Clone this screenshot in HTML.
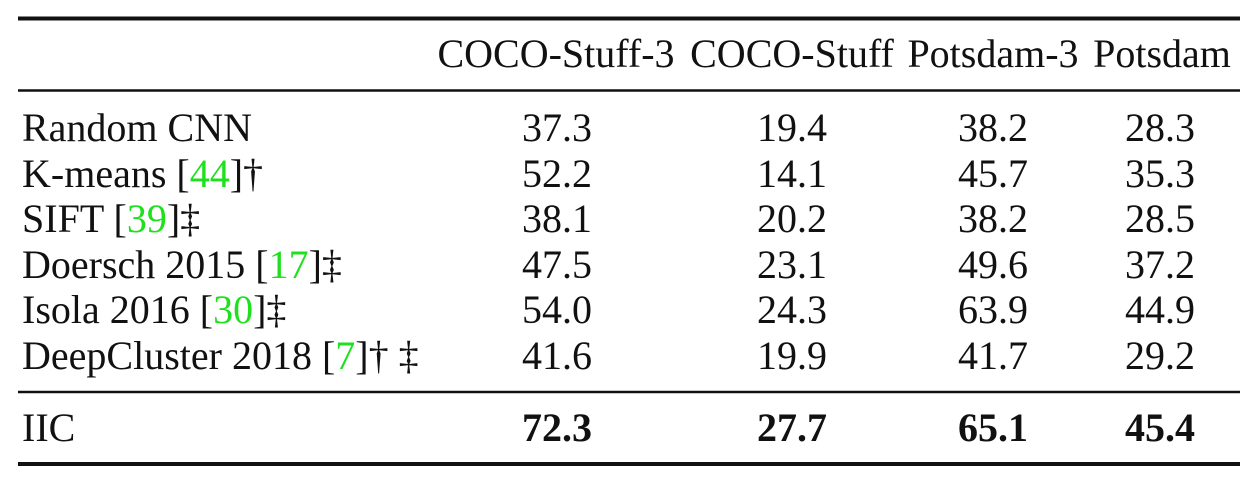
<!DOCTYPE html>
<html><head><meta charset="utf-8"><style>
html,body{margin:0;padding:0;background:#fff;}
svg{display:block;}
text{font-family:"Liberation Serif",serif;font-size:40px;fill:#111;}
.g{fill:#1ee01e;}
.b{font-weight:bold;}
</style></head><body>
<svg width="1247" height="477">
<line x1="18" x2="1240" y1="18.5" y2="18.5" stroke="#111" stroke-width="4"/>
<line x1="18" x2="1240" y1="90.5" y2="90.5" stroke="#111" stroke-width="2.5"/>
<line x1="18" x2="1240" y1="392" y2="392" stroke="#111" stroke-width="2.5"/>
<line x1="18" x2="1240" y1="464" y2="464" stroke="#111" stroke-width="4"/>
<g text-anchor="middle">
<text x="556" y="67">COCO-Stuff-3</text>
<text x="792" y="67">COCO-Stuff</text>
<text x="993" y="67">Potsdam-3</text>
<text x="1162" y="67">Potsdam</text>
</g>
<g>
<text x="22" y="141">Random CNN</text>
<text x="22" y="187">K-means [<tspan class="g">44</tspan>]†</text>
<text x="22" y="232">SIFT [<tspan class="g">39</tspan>]‡</text>
<text x="22" y="278">Doersch 2015 [<tspan class="g">17</tspan>]‡</text>
<text x="22" y="323">Isola 2016 [<tspan class="g">30</tspan>]‡</text>
<text x="22" y="369">DeepCluster 2018 [<tspan class="g">7</tspan>]† ‡</text>
<text x="22" y="441">IIC</text>
</g>
<g text-anchor="middle">
<text x="557" y="141">37.3</text><text x="792" y="141">19.4</text><text x="993" y="141">38.2</text><text x="1160" y="141">28.3</text>
<text x="557" y="187">52.2</text><text x="792" y="187">14.1</text><text x="993" y="187">45.7</text><text x="1160" y="187">35.3</text>
<text x="557" y="232">38.1</text><text x="792" y="232">20.2</text><text x="993" y="232">38.2</text><text x="1160" y="232">28.5</text>
<text x="557" y="278">47.5</text><text x="792" y="278">23.1</text><text x="993" y="278">49.6</text><text x="1160" y="278">37.2</text>
<text x="557" y="323">54.0</text><text x="792" y="323">24.3</text><text x="993" y="323">63.9</text><text x="1160" y="323">44.9</text>
<text x="557" y="369">41.6</text><text x="792" y="369">19.9</text><text x="993" y="369">41.7</text><text x="1160" y="369">29.2</text>
<text class="b" x="557" y="441">72.3</text><text class="b" x="792" y="441">27.7</text><text class="b" x="993" y="441">65.1</text><text class="b" x="1160" y="441">45.4</text>
</g>
</svg>
</body></html>
